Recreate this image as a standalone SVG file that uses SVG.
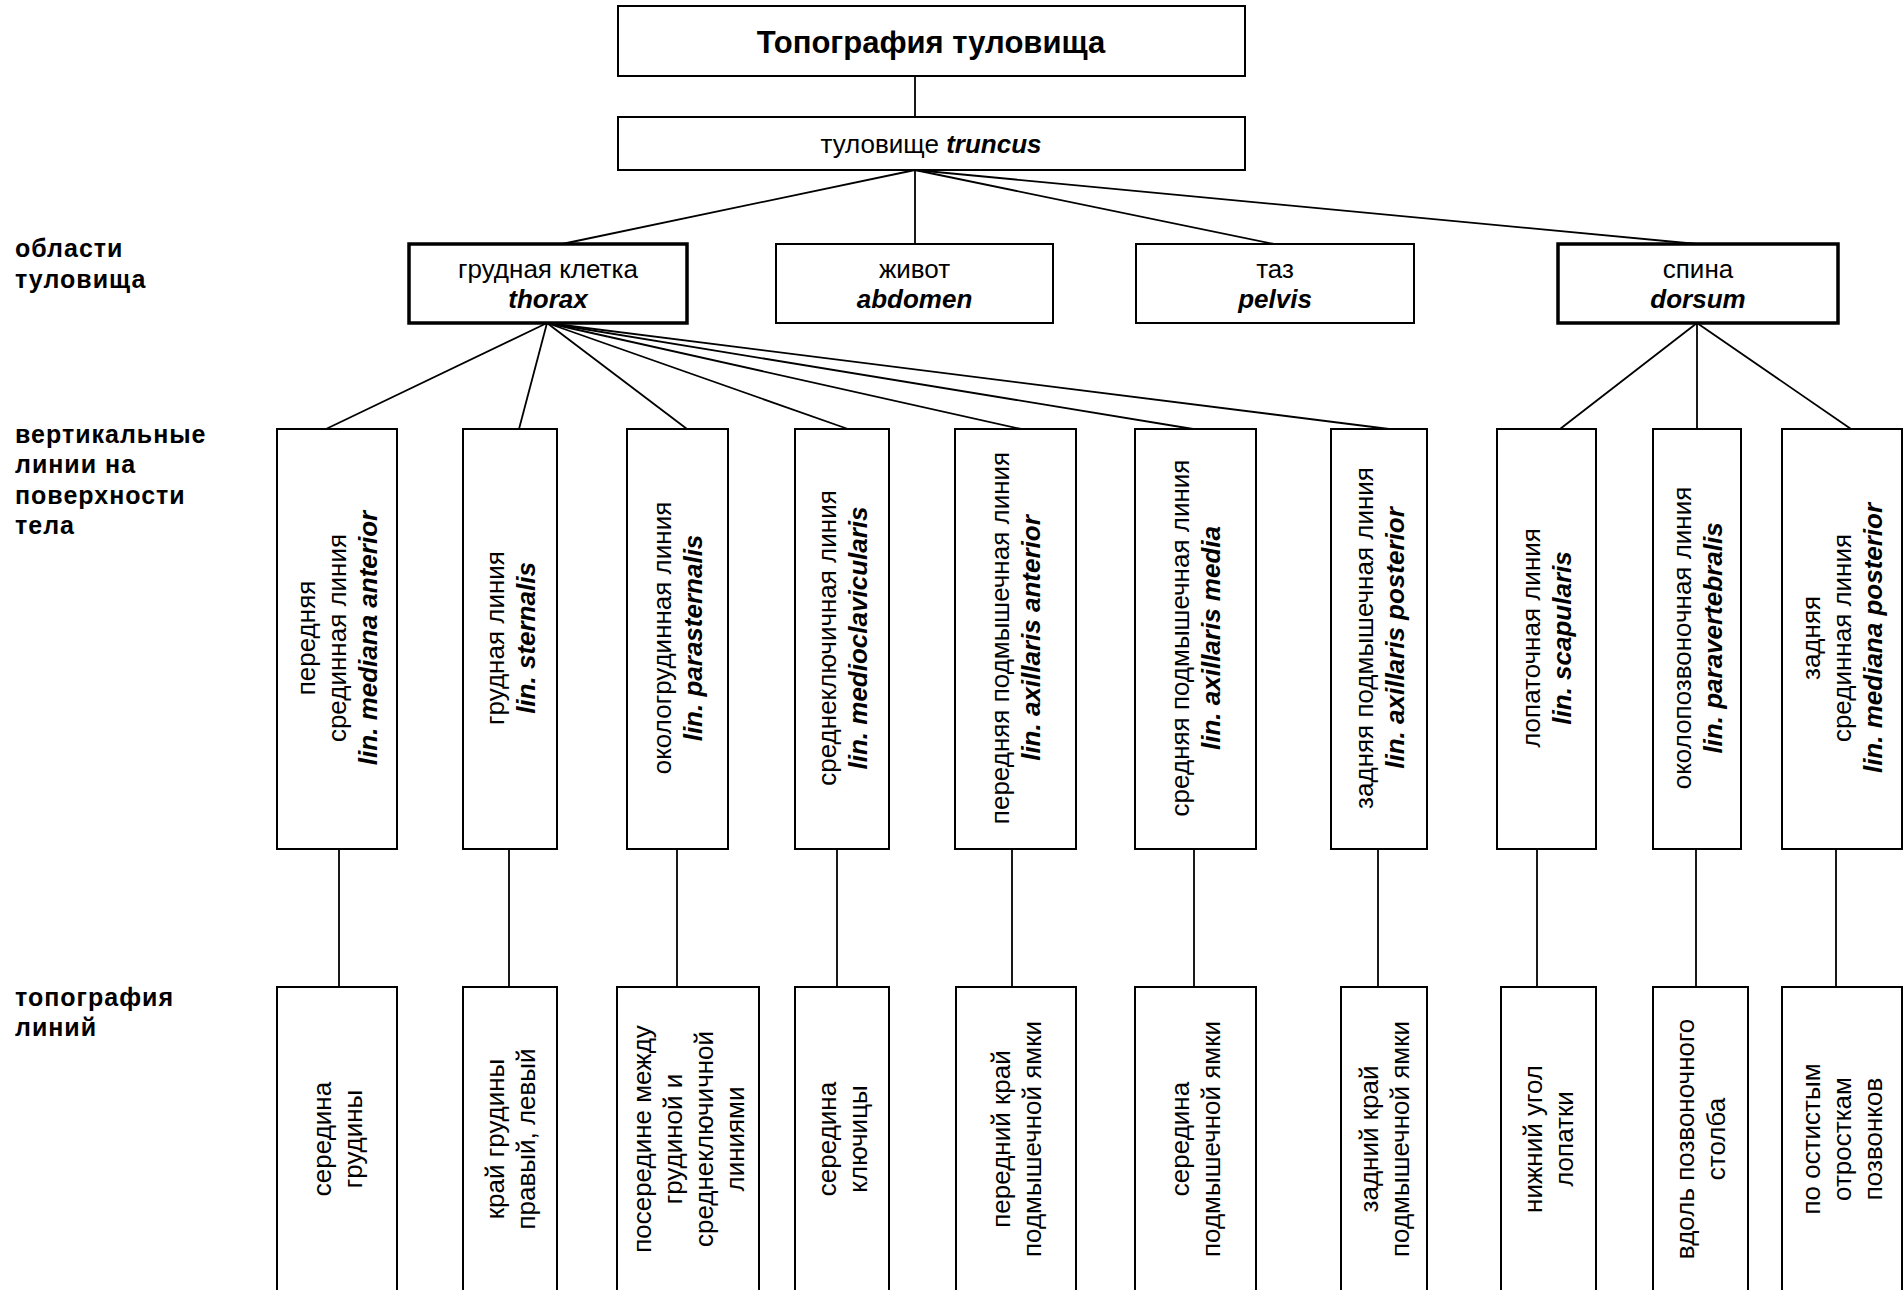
<svg xmlns="http://www.w3.org/2000/svg" width="1903" height="1290" viewBox="0 0 1903 1290">
<style>
text{font-family:"Liberation Sans",Arial,sans-serif;fill:#000}
.box{fill:#fff;stroke:#000;stroke-width:2}
.bold{fill:#fff;stroke:#000;stroke-width:3.5}
.c line{stroke:#000;stroke-width:1.8}
.t{font-size:26px;text-anchor:middle}
.lat{font-weight:bold;font-style:italic}
.side{font-size:25px;font-weight:bold;letter-spacing:1px}
</style>
<rect width="1903" height="1290" fill="#fff"/>
<g id="connectors" class="c">
<line x1="915" y1="76" x2="915" y2="117"/>
<line x1="915" y1="170" x2="562" y2="244"/>
<line x1="915" y1="170" x2="915" y2="244"/>
<line x1="915" y1="170" x2="1274" y2="244"/>
<line x1="915" y1="170" x2="1697" y2="244"/>
<line x1="547" y1="323" x2="326" y2="429"/>
<line x1="547" y1="323" x2="519" y2="429"/>
<line x1="547" y1="323" x2="687" y2="429"/>
<line x1="547" y1="323" x2="848" y2="429"/>
<line x1="547" y1="323" x2="1021" y2="429"/>
<line x1="547" y1="323" x2="1193" y2="429"/>
<line x1="547" y1="323" x2="1389" y2="429"/>
<line x1="1697" y1="323" x2="1560" y2="429"/>
<line x1="1697" y1="323" x2="1697" y2="429"/>
<line x1="1697" y1="323" x2="1851" y2="429"/>
<line x1="339" y1="849" x2="339" y2="987"/>
<line x1="509" y1="849" x2="509" y2="987"/>
<line x1="677" y1="849" x2="677" y2="987"/>
<line x1="837" y1="849" x2="837" y2="987"/>
<line x1="1012" y1="849" x2="1012" y2="987"/>
<line x1="1194" y1="849" x2="1194" y2="987"/>
<line x1="1378" y1="849" x2="1378" y2="987"/>
<line x1="1537" y1="849" x2="1537" y2="987"/>
<line x1="1696" y1="849" x2="1696" y2="987"/>
<line x1="1836" y1="849" x2="1836" y2="987"/>
</g>
<g id="side-labels">
<text class="side" x="15" y="257">области<tspan x="15" y="288">туловища</tspan></text>
<text class="side" x="15" y="443">вертикальные<tspan x="15" y="473">линии на</tspan><tspan x="15" y="504">поверхности</tspan><tspan x="15" y="534">тела</tspan></text>
<text class="side" x="15" y="1006">топография<tspan x="15" y="1036">линий</tspan></text>
</g>
<g id="title"><rect class="box" x="618" y="6" width="627" height="70"/><text x="931" y="53" style="font-size:31px;font-weight:bold;text-anchor:middle">Топография туловища</text></g>
<g id="truncus"><rect class="box" x="618" y="117" width="627" height="53"/><text class="t" x="931" y="153">туловище <tspan class="lat">truncus</tspan></text></g>
<g id="thorax"><rect class="bold" x="409" y="244" width="278" height="79"/><text class="t" x="548" y="278">грудная клетка<tspan class="lat" x="548" y="308">thorax</tspan></text></g>
<g id="abdomen"><rect class="box" x="776" y="244" width="277" height="79"/><text class="t" x="914.5" y="278">живот<tspan class="lat" x="914.5" y="308">abdomen</tspan></text></g>
<g id="pelvis"><rect class="box" x="1136" y="244" width="278" height="79"/><text class="t" x="1275" y="278">таз<tspan class="lat" x="1275" y="308">pelvis</tspan></text></g>
<g id="dorsum"><rect class="bold" x="1558" y="244" width="280" height="79"/><text class="t" x="1698" y="278">спина<tspan class="lat" x="1698" y="308">dorsum</tspan></text></g>
<g id="v1"><rect class="box" x="277" y="429" width="120" height="420"/><text class="t" transform="translate(337,638) rotate(-90)"><tspan x="0" y="-22">передняя</tspan><tspan x="0" y="9">срединная линия</tspan><tspan class="lat" x="0" y="40">lin. mediana anterior</tspan></text></g>
<g id="v2"><rect class="box" x="463" y="429" width="94" height="420"/><text class="t" transform="translate(510,638) rotate(-90)"><tspan x="0" y="-6.5">грудная линия</tspan><tspan class="lat" x="0" y="24.5">lin. sternalis</tspan></text></g>
<g id="v3"><rect class="box" x="627" y="429" width="101" height="420"/><text class="t" transform="translate(677.5,638) rotate(-90)"><tspan x="0" y="-6.5">окологрудинная линия</tspan><tspan class="lat" x="0" y="24.5">lin. parasternalis</tspan></text></g>
<g id="v4"><rect class="box" x="795" y="429" width="94" height="420"/><text class="t" transform="translate(842,638) rotate(-90)"><tspan x="0" y="-6.5">среднеключичная линия</tspan><tspan class="lat" x="0" y="24.5">lin. medioclavicularis</tspan></text></g>
<g id="v5"><rect class="box" x="955" y="429" width="121" height="420"/><text class="t" transform="translate(1015.5,638) rotate(-90)"><tspan x="0" y="-6.5">передняя подмышечная линия</tspan><tspan class="lat" x="0" y="24.5">lin. axillaris anterior</tspan></text></g>
<g id="v6"><rect class="box" x="1135" y="429" width="121" height="420"/><text class="t" transform="translate(1195.5,638) rotate(-90)"><tspan x="0" y="-6.5">средняя подмышечная линия</tspan><tspan class="lat" x="0" y="24.5">lin. axillaris media</tspan></text></g>
<g id="v7"><rect class="box" x="1331" y="429" width="96" height="420"/><text class="t" transform="translate(1379,638) rotate(-90)"><tspan x="0" y="-6.5">задняя подмышечная линия</tspan><tspan class="lat" x="0" y="24.5">lin. axillaris posterior</tspan></text></g>
<g id="v8"><rect class="box" x="1497" y="429" width="99" height="420"/><text class="t" transform="translate(1546.5,638) rotate(-90)"><tspan x="0" y="-6.5">лопаточная линия</tspan><tspan class="lat" x="0" y="24.5">lin. scapularis</tspan></text></g>
<g id="v9"><rect class="box" x="1653" y="429" width="88" height="420"/><text class="t" transform="translate(1697,638) rotate(-90)"><tspan x="0" y="-6.5">околопозвоночная линия</tspan><tspan class="lat" x="0" y="24.5">lin. paravertebralis</tspan></text></g>
<g id="v10"><rect class="box" x="1782" y="429" width="120" height="420"/><text class="t" transform="translate(1842,638) rotate(-90)"><tspan x="0" y="-22">задняя</tspan><tspan x="0" y="9">срединная линия</tspan><tspan class="lat" x="0" y="40">lin. mediana posterior</tspan></text></g>
<g id="b1"><rect class="box" x="277" y="987" width="120" height="310"/><text class="t" transform="translate(337,1139) rotate(-90)"><tspan x="0" y="-6.5">середина</tspan><tspan x="0" y="24.5">грудины</tspan></text></g>
<g id="b2"><rect class="box" x="463" y="987" width="94" height="310"/><text class="t" transform="translate(510,1139) rotate(-90)"><tspan x="0" y="-6.5">край грудины</tspan><tspan x="0" y="24.5">правый, левый</tspan></text></g>
<g id="b3"><rect class="box" x="617" y="987" width="142" height="310"/><text class="t" transform="translate(688,1139) rotate(-90)"><tspan x="0" y="-37.5">посередине между</tspan><tspan x="0" y="-6.5">грудиной и</tspan><tspan x="0" y="24.5">среднеключичной</tspan><tspan x="0" y="55.5">линиями</tspan></text></g>
<g id="b4"><rect class="box" x="795" y="987" width="94" height="310"/><text class="t" transform="translate(842,1139) rotate(-90)"><tspan x="0" y="-6.5">середина</tspan><tspan x="0" y="24.5">ключицы</tspan></text></g>
<g id="b5"><rect class="box" x="956" y="987" width="120" height="310"/><text class="t" transform="translate(1016,1139) rotate(-90)"><tspan x="0" y="-6.5">передний край</tspan><tspan x="0" y="24.5">подмышечной ямки</tspan></text></g>
<g id="b6"><rect class="box" x="1135" y="987" width="121" height="310"/><text class="t" transform="translate(1195.5,1139) rotate(-90)"><tspan x="0" y="-6.5">середина</tspan><tspan x="0" y="24.5">подмышечной ямки</tspan></text></g>
<g id="b7"><rect class="box" x="1341" y="987" width="86" height="310"/><text class="t" transform="translate(1384,1139) rotate(-90)"><tspan x="0" y="-6.5">задний край</tspan><tspan x="0" y="24.5">подмышечной ямки</tspan></text></g>
<g id="b8"><rect class="box" x="1501" y="987" width="95" height="310"/><text class="t" transform="translate(1548.5,1139) rotate(-90)"><tspan x="0" y="-6.5">нижний угол</tspan><tspan x="0" y="24.5">лопатки</tspan></text></g>
<g id="b9"><rect class="box" x="1653" y="987" width="95" height="310"/><text class="t" transform="translate(1700.5,1139) rotate(-90)"><tspan x="0" y="-6.5">вдоль позвоночного</tspan><tspan x="0" y="24.5">столба</tspan></text></g>
<g id="b10"><rect class="box" x="1782" y="987" width="120" height="310"/><text class="t" transform="translate(1842,1139) rotate(-90)"><tspan x="0" y="-22">по остистым</tspan><tspan x="0" y="9">отросткам</tspan><tspan x="0" y="40">позвонков</tspan></text></g>
</svg>
